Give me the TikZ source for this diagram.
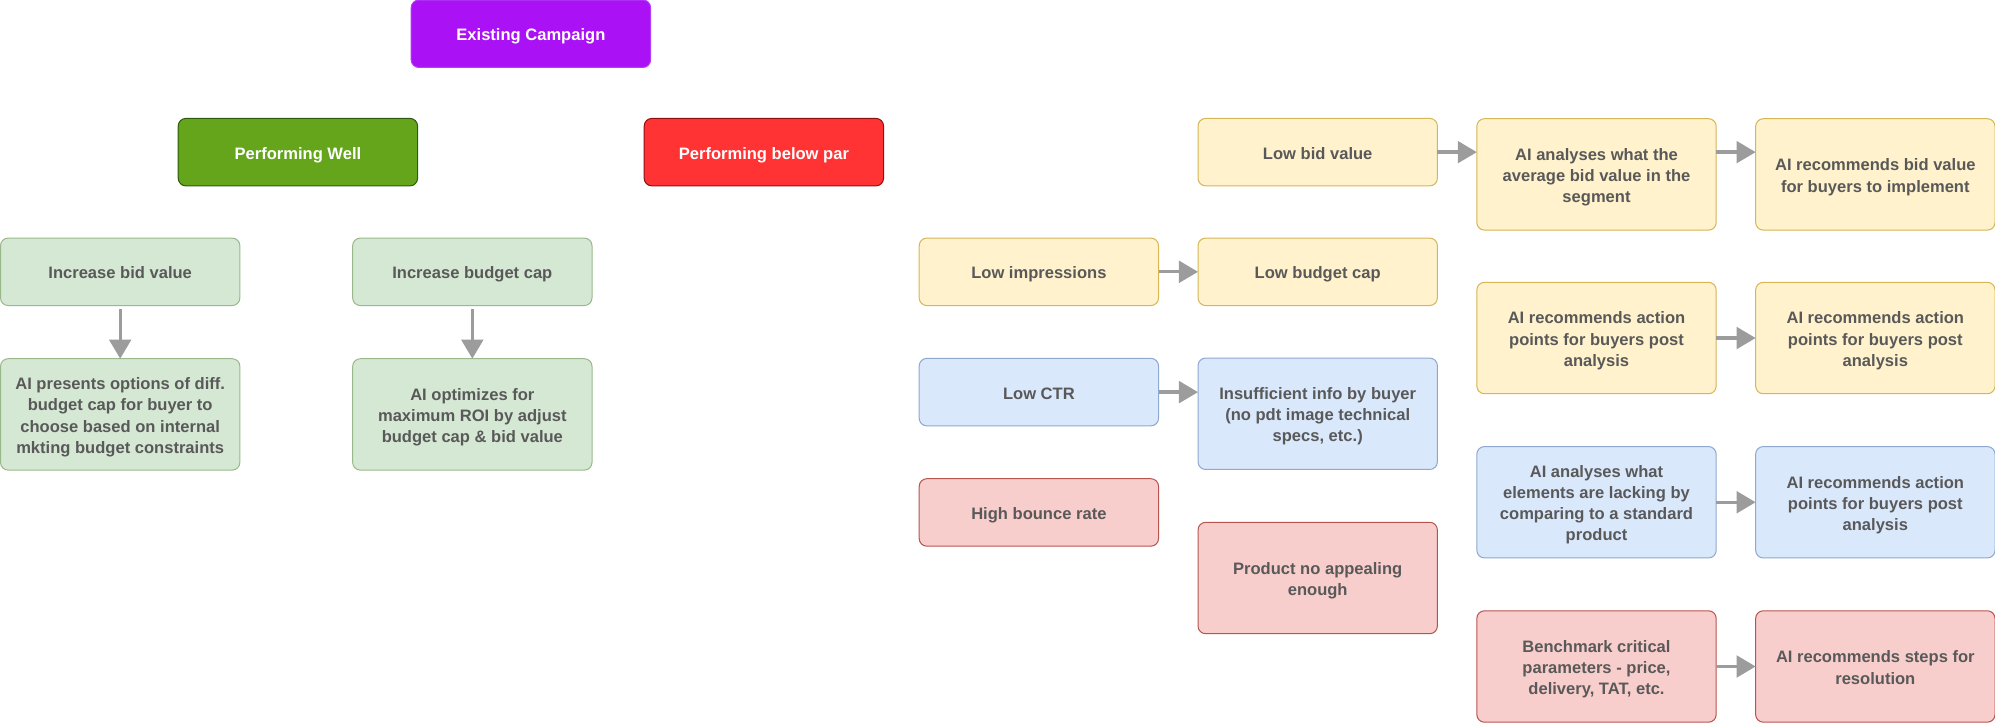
\documentclass[tikz,border=0pt]{standalone}
\usepackage{fontspec}
\setmainfont{Liberation Sans}
\usetikzlibrary{arrows.meta,calc}
\definecolor{txtgray}{HTML}{595959}
\definecolor{arrgray}{HTML}{9C9C9C}
\definecolor{purfill}{HTML}{AA11F5}
\definecolor{purdraw}{HTML}{B33CF5}
\definecolor{grnfill}{HTML}{64A51C}
\definecolor{grndraw}{HTML}{2D5A0E}
\definecolor{redfill}{HTML}{FF3333}
\definecolor{reddraw}{HTML}{8F1010}
\definecolor{lgfill}{HTML}{D5E8D4}
\definecolor{lgdraw}{HTML}{9AB98A}
\definecolor{yfill}{HTML}{FFF2CC}
\definecolor{ydraw}{HTML}{D6B656}
\definecolor{bfill}{HTML}{DAE8FC}
\definecolor{bdraw}{HTML}{8FA8CF}
\definecolor{pfill}{HTML}{F8CECC}
\definecolor{pdraw}{HTML}{B85450}
\newcommand\bt[1]{\raisebox{-2.2pt}[\height][\depth]{\begin{tabular}{@{}c@{}}#1\end{tabular}}}
\tikzset{
  box/.style={rectangle, rounded corners=6pt, line width=0.8pt, minimum width=188pt,
    minimum height=53pt, inner sep=2pt, outer sep=0pt, align=center,
    font=\fontsize{13}{16.6}\selectfont\bfseries, text=txtgray},
  tall/.style={minimum height=87.5pt},
  purbox/.style={box, fill=purfill, draw=purdraw, text=white},
  grnbox/.style={box, fill=grnfill, draw=grndraw, text=white},
  redbox/.style={box, fill=redfill, draw=reddraw, text=white},
  lgbox/.style={box, fill=lgfill, draw=lgdraw},
  ybox/.style={box, fill=yfill, draw=ydraw},
  bbox/.style={box, fill=bfill, draw=bdraw},
  pbox/.style={box, fill=pfill, draw=pdraw},
  arr/.style={draw=arrgray, line width=2.6pt, -{Triangle[length=15pt,width=17pt,fill=arrgray]}},
}
\begin{document}
\begin{tikzpicture}[x=1pt,y=-1pt]
\useasboundingbox (0,0) rectangle (1567,568);
% left part
\node[purbox] (ec) at (417,26.5) {\bt{Existing Campaign}};
\node[grnbox] (pw) at (234,119.5) {\bt{Performing Well}};
\node[redbox] (pb) at (600,119.5) {\bt{Performing below par}};
\node[lgbox] (ibv) at (94.4,213.5) {\bt{Increase bid value}};
\node[lgbox] (ibc) at (371,213.5) {\bt{Increase budget cap}};
\node[lgbox,tall] (aip) at (94.4,325.5) {\bt{AI presents options of diff.\\budget cap for buyer to\\choose based on internal\\mkting budget constraints}};
\node[lgbox,tall] (aio) at (371,325.5) {\bt{AI optimizes for\\maximum ROI by adjust\\budget cap \& bid value}};
% right part
\node[ybox] (lbv) at (1035,119.5) {\bt{Low bid value}};
\node[ybox,tall] (aia) at (1254,137) {\bt{AI analyses what the\\average bid value in the\\segment}};
\node[ybox,tall] (arb) at (1473,137) {\bt{AI recommends bid value\\for buyers to implement}};
\node[ybox] (li) at (816,213.5) {\bt{Low impressions}};
\node[ybox] (lbc) at (1035,213.5) {\bt{Low budget cap}};
\node[ybox,tall] (ara1) at (1254,265.5) {\bt{AI recommends action\\points for buyers post\\analysis}};
\node[ybox,tall] (ara2) at (1473,265.5) {\bt{AI recommends action\\points for buyers post\\analysis}};
\node[bbox] (lctr) at (816,308) {\bt{Low CTR}};
\node[bbox,tall] (ins) at (1035,325) {\bt{Insufficient info by buyer\\(no pdt image technical\\specs, etc.)}};
\node[bbox,tall] (aie) at (1254,394.5) {\bt{AI analyses what\\elements are lacking by\\comparing to a standard\\product}};
\node[bbox,tall] (ara3) at (1473,394.5) {\bt{AI recommends action\\points for buyers post\\analysis}};
\node[pbox] (hbr) at (816,402.5) {\bt{High bounce rate}};
\node[pbox,tall] (pna) at (1035,454) {\bt{Product no appealing\\enough}};
\node[pbox,tall] (bcp) at (1254,523.5) {\bt{Benchmark critical\\parameters - price,\\delivery, TAT, etc.}};
\node[pbox,tall] (ars) at (1473,523.5) {\bt{AI recommends steps for\\resolution}};
% arrows
\draw[arr, shorten <=3pt] (ibv.south) -- (aip.north);
\draw[arr, shorten <=3pt] (ibc.south) -- (aio.north);
\draw[arr] (lbv.east) -- (lbv.east -| aia.west);
\draw[arr] (aia.east |- lbv.east) -- (lbv.east -| arb.west);
\draw[arr] (li.east) -- (lbc.west);
\draw[arr] (ara1.east) -- (ara2.west);
\draw[arr] (lctr.east) -- (lctr.east -| ins.west);
\draw[arr] (aie.east) -- (ara3.west);
\draw[arr] (bcp.east) -- (ars.west);
\end{tikzpicture}
\end{document}
